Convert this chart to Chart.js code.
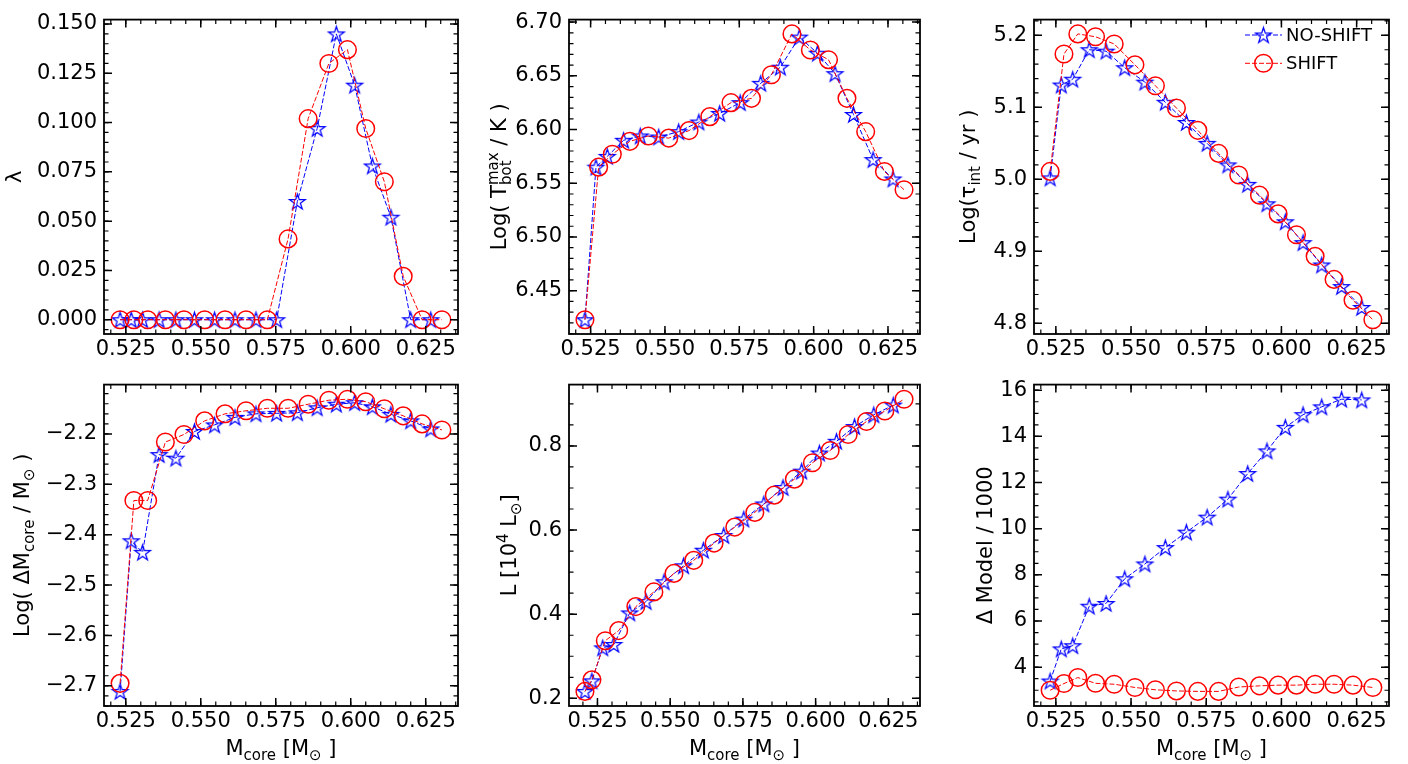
<!DOCTYPE html>
<html><head><meta charset="utf-8">
<script src="https://cdn.jsdelivr.net/npm/chart.js@4.4.1/dist/chart.umd.min.js"></script>
<style>
html,body{margin:0;padding:0;background:#fff;width:1408px;height:764px;overflow:hidden;}
canvas{position:absolute;}
</style></head><body>
<canvas id="p1"></canvas><canvas id="p2"></canvas><canvas id="p3"></canvas>
<canvas id="p4"></canvas><canvas id="p5"></canvas><canvas id="p6"></canvas>
<script>
// ---------------- data ----------------
const mcoreNoShift = [0.5231, 0.5268, 0.5306, 0.5361, 0.5417, 0.5479, 0.5546, 0.5614, 0.5684, 0.5753, 0.5822, 0.5888, 0.5952, 0.6013, 0.6072, 0.6134, 0.6200, 0.6267];
const mcoreShift   = [0.5231, 0.5277, 0.5323, 0.5382, 0.5444, 0.5513, 0.5581, 0.5651, 0.5722, 0.5791, 0.5858, 0.5927, 0.5989, 0.6050, 0.6112, 0.6175, 0.6238, 0.6304];
const mcoreFirstL  = 0.5207; // extra first model shown only in the luminosity panel
const mcoreNoShiftL = [mcoreFirstL, ...mcoreNoShift];
const mcoreShiftL   = [mcoreFirstL, ...mcoreShift];

const lambdaNoShift = [0,0,0,0,0,0,0,0,0,0, 0.060, 0.097, 0.145, 0.119, 0.078, 0.052, 0, 0];
const lambdaShift   = [0,0,0,0,0,0,0,0,0, 0.041, 0.102, 0.130, 0.137, 0.097, 0.070, 0.022, 0, 0];

const logTbotNoShift = [6.423, 6.565, 6.575, 6.590, 6.594, 6.593, 6.598, 6.607, 6.615, 6.625, 6.643, 6.658, 6.686, 6.671, 6.652, 6.614, 6.572, 6.554];
const logTbotShift   = [6.423, 6.565, 6.577, 6.589, 6.594, 6.592, 6.599, 6.612, 6.625, 6.629, 6.651, 6.689, 6.674, 6.665, 6.629, 6.598, 6.561, 6.544];

const logTauNoShift = [5.002, 5.131, 5.139, 5.180, 5.178, 5.155, 5.135, 5.107, 5.079, 5.050, 5.020, 4.993, 4.966, 4.941, 4.912, 4.881, 4.851, 4.822];
const logTauShift   = [5.011, 5.174, 5.202, 5.198, 5.188, 5.159, 5.130, 5.099, 5.068, 5.036, 5.006, 4.978, 4.952, 4.923, 4.893, 4.861, 4.832, 4.805];

const logDMcoreNoShift = [-2.711, -2.412, -2.435, -2.241, -2.248, -2.195, -2.182, -2.167, -2.160, -2.159, -2.158, -2.148, -2.141, -2.138, -2.146, -2.161, -2.174, -2.190];
const logDMcoreShift   = [-2.695, -2.332, -2.332, -2.216, -2.201, -2.174, -2.160, -2.154, -2.149, -2.149, -2.141, -2.133, -2.131, -2.136, -2.150, -2.164, -2.180, -2.192];

const lumNoShift = [0.2165, 0.2415, 0.320, 0.328, 0.403, 0.430, 0.477, 0.515, 0.552, 0.587, 0.626, 0.662, 0.701, 0.740, 0.783, 0.811, 0.846, 0.874, 0.897];
const lumShift   = [0.2165, 0.244, 0.337, 0.361, 0.418, 0.453, 0.497, 0.528, 0.569, 0.607, 0.642, 0.683, 0.721, 0.760, 0.789, 0.827, 0.858, 0.883, 0.911];

const dModelNoShift = [3.40, 4.79, 4.93, 6.64, 6.76, 7.83, 8.47, 9.18, 9.85, 10.50, 11.28, 12.39, 13.37, 14.39, 14.94, 15.28, 15.61, 15.58];
const dModelShift   = [3.00, 3.29, 3.55, 3.30, 3.26, 3.12, 3.02, 2.97, 2.95, 2.95, 3.14, 3.19, 3.22, 3.22, 3.26, 3.26, 3.22, 3.12];

const xTicks      = [0.525, 0.550, 0.575, 0.600, 0.625];
const lambdaTicks = [0.000, 0.025, 0.050, 0.075, 0.100, 0.125, 0.150];
const tbotTicks   = [6.45, 6.50, 6.55, 6.60, 6.65, 6.70];
const tauTicks    = [4.8, 4.9, 5.0, 5.1, 5.2];
const dmTicks     = [-2.7, -2.6, -2.5, -2.4, -2.3, -2.2];
const lumTicks    = [0.2, 0.4, 0.6, 0.8];
const dModelTicks = [4, 6, 8, 10, 12, 14, 16];
const seriesNames = ['NO-SHIFT', 'SHIFT'];

// ---------------- styling ----------------
const BLUE = '#0000ff', RED = '#ff0000';
const FONT = '"DejaVu Sans", "Liberation Sans", sans-serif';
const FS = 21;

function makeStar(R, color, lw) {
  const c = document.createElement('canvas');
  const S = Math.ceil(2 * R + 2 * lw + 2);
  c.width = S; c.height = S;
  const g = c.getContext('2d');
  g.translate(S / 2, S / 2 + R * 0.095);
  const r = R * 0.381966;
  g.beginPath();
  for (let i = 0; i < 10; i++) {
    const a = -Math.PI / 2 + i * Math.PI / 5;
    const rr = (i % 2) ? r : R;
    g.lineTo(rr * Math.cos(a), rr * Math.sin(a));
  }
  g.closePath();
  g.lineJoin = 'miter';
  g.strokeStyle = color; g.lineWidth = lw; g.stroke();
  return c;
}
const starImg = makeStar(8.2, BLUE, 1.25);

function paddedRange(vals) {
  const mn = Math.min(...vals), mx = Math.max(...vals);
  const d = mx - mn;
  return [mn - 0.05 * d, mx + 0.05 * d];
}

function drawRich(ctx, segs, x, y, size, rotate) {
  ctx.save();
  ctx.translate(x, y);
  if (rotate) ctx.rotate(-Math.PI / 2);
  const base = size + 'px ' + FONT;
  const small = Math.round(size * 0.7) + 'px ' + FONT;
  const items = [];
  let w = 0;
  for (const s of segs) {
    let m;
    if (!s.s) { ctx.font = base; m = ctx.measureText(s.t).width; }
    else if (s.s === 'sub' || s.s === 'sup') { ctx.font = small; m = ctx.measureText(s.t).width; }
    else { ctx.font = small; m = Math.max(ctx.measureText(s.t).width, ctx.measureText(s.t2).width); }
    items.push(Object.assign({ w: m }, s)); w += m;
  }
  let cx = -w / 2;
  ctx.textBaseline = 'alphabetic'; ctx.textAlign = 'left'; ctx.fillStyle = '#000';
  for (const it of items) {
    if (!it.s) { ctx.font = base; ctx.fillText(it.t, cx, 0); }
    else if (it.s === 'sub') { ctx.font = small; ctx.fillText(it.t, cx, size * 0.24); }
    else if (it.s === 'sup') { ctx.font = small; ctx.fillText(it.t, cx, -size * 0.40); }
    else { ctx.font = small; ctx.fillText(it.t, cx, -size * 0.40); ctx.fillText(it.t2, cx, size * 0.26); }
    cx += it.w;
  }
  ctx.restore();
}

const xTitleSegs = [{t:'M'}, {t:'core', s:'sub'}, {t:' [M'}, {t:'\u2299', s:'sub'}, {t:' ]'}];

// plugin: matplotlib-like frame, inward major/minor ticks, titles, legend
const mplFrame = {
  id: 'mplFrame',
  afterDraw(chart, args, o) {
    const { ctx, chartArea: a, scales: { x, y } } = chart;
    ctx.save();
    ctx.strokeStyle = '#000';
    const minors = (sc, step) => {
      const out = [];
      const k0 = Math.ceil(sc.min / step - 1e-9), k1 = Math.floor(sc.max / step + 1e-9);
      for (let k = k0; k <= k1; k++) out.push(k * step);
      return out;
    };
    const drawX = (vals, len, lw) => {
      ctx.lineWidth = lw; ctx.beginPath();
      for (const v of vals) {
        const px = x.getPixelForValue(v);
        ctx.moveTo(px, a.bottom); ctx.lineTo(px, a.bottom - len);
        ctx.moveTo(px, a.top); ctx.lineTo(px, a.top + len);
      }
      ctx.stroke();
    };
    const drawY = (vals, len, lw) => {
      ctx.lineWidth = lw; ctx.beginPath();
      for (const v of vals) {
        const py = y.getPixelForValue(v);
        ctx.moveTo(a.left, py); ctx.lineTo(a.left + len, py);
        ctx.moveTo(a.right, py); ctx.lineTo(a.right - len, py);
      }
      ctx.stroke();
    };
    drawX(minors(x, o.xMinor), 4.5, 1.2);
    drawY(minors(y, o.yMinor), 4.5, 1.2);
    drawX(x.ticks.map(t => t.value), 8, 1.5);
    drawY(y.ticks.map(t => t.value), 8, 1.5);
    ctx.lineWidth = 1.8;
    ctx.strokeRect(a.left, a.top, a.right - a.left, a.bottom - a.top);
    // y title
    drawRich(ctx, o.yTitle, o.yTitleX, (a.top + a.bottom) / 2, FS, true);
    // x title
    if (o.xTitle) drawRich(ctx, xTitleSegs, (a.left + a.right) / 2, o.xTitleY, FS, false);
    // legend
    if (o.legend) {
      const L = o.legend;
      const rows = [{ c: BLUE, star: true, label: seriesNames[0], y: L.y0 }, { c: RED, star: false, label: seriesNames[1], y: L.y1 }];
      for (const r of rows) {
        ctx.save();
        ctx.strokeStyle = r.c; ctx.lineWidth = 1; ctx.setLineDash([5, 2]);
        ctx.beginPath(); ctx.moveTo(L.x0, r.y); ctx.lineTo(L.x1, r.y); ctx.stroke();
        ctx.restore();
        const cxm = (L.x0 + L.x1) / 2;
        if (r.star) ctx.drawImage(starImg, cxm - starImg.width / 2, r.y - starImg.height / 2);
        else { ctx.strokeStyle = RED; ctx.lineWidth = 1.5; ctx.beginPath(); ctx.arc(cxm, r.y, 8.8, 0, 2 * Math.PI); ctx.stroke(); }
        ctx.fillStyle = '#000'; ctx.font = '18px ' + FONT; ctx.textBaseline = 'middle'; ctx.textAlign = 'left';
        ctx.fillText(r.label, L.tx, r.y + 1);
      }
    }
    ctx.restore();
  }
};

const cols = [
  { left: 0,   w: 475, plotLeft: 104, plotRight: 458 },
  { left: 475, w: 460, plotLeft: 569, plotRight: 920 },
  { left: 935, w: 473, plotLeft: 1034, plotRight: 1389 }
];
const rows = [
  { top: 0,   h: 365, plotTop: 12,  plotBottom: 334 },
  { top: 365, h: 399, plotTop: 382, plotBottom: 706 }
];

const panels = [
  { id: 'p1', c: 0, r: 0, xa: mcoreNoShift, xb: mcoreShift, ya: lambdaNoShift, yb: lambdaShift,
    yTicks: lambdaTicks, yMinor: 0.005, fmt: v => v.toFixed(3),
    yTitle: [{t:'\u03bb'}], yTitleX: 21 },
  { id: 'p2', c: 1, r: 0, xa: mcoreNoShift, xb: mcoreShift, ya: logTbotNoShift, yb: logTbotShift,
    yTicks: tbotTicks, yMinor: 0.01, fmt: v => v.toFixed(2),
    yTitle: [{t:'Log( T'}, {t:'max', s:'supsub', t2:'bot'}, {t:' / K )'}], yTitleX: 506 },
  { id: 'p3', c: 2, r: 0, xa: mcoreNoShift, xb: mcoreShift, ya: logTauNoShift, yb: logTauShift,
    yTicks: tauTicks, yMinor: 0.02, fmt: v => v.toFixed(1),
    yTitle: [{t:'Log(\u03c4'}, {t:'int', s:'sub'}, {t:' / yr )'}], yTitleX: 975,
    legend: { x0: 1245, x1: 1282, y0: 35, y1: 63.3, tx: 1286 } },
  { id: 'p4', c: 0, r: 1, xa: mcoreNoShift, xb: mcoreShift, ya: logDMcoreNoShift, yb: logDMcoreShift,
    yTicks: dmTicks, yMinor: 0.02, fmt: v => v.toFixed(1).replace('-', '\u2212'),
    yTitle: [{t:'Log( \u0394M'}, {t:'core', s:'sub'}, {t:' / M'}, {t:'\u2299', s:'sub'}, {t:' )'}], yTitleX: 29 },
  { id: 'p5', c: 1, r: 1, xa: mcoreNoShiftL, xb: mcoreShiftL, ya: lumNoShift, yb: lumShift,
    yTicks: lumTicks, yMinor: 0.05, fmt: v => v.toFixed(1),
    yTitle: [{t:'L [10'}, {t:'4', s:'sup'}, {t:' L'}, {t:'\u2299', s:'sub'}, {t:']'}], yTitleX: 516 },
  { id: 'p6', c: 2, r: 1, xa: mcoreNoShift, xb: mcoreShift, ya: dModelNoShift, yb: dModelShift,
    yTicks: dModelTicks, yMinor: 0.5, fmt: v => String(Math.round(v)),
    yTitle: [{t:'\u0394 Model / 1000'}], yTitleX: 992 }
];

for (const p of panels) {
  const col = cols[p.c], row = rows[p.r];
  const cv = document.getElementById(p.id);
  cv.width = col.w; cv.height = row.h;
  cv.style.left = col.left + 'px'; cv.style.top = row.top + 'px';
  const [xmin, xmax] = paddedRange([...p.xa, ...p.xb]);
  const [ymin, ymax] = paddedRange([...p.ya, ...p.yb]);
  const yW = col.plotLeft - col.left;
  const xH = row.top + row.h - row.plotBottom;
  const legend = p.legend ? { x0: p.legend.x0 - col.left, x1: p.legend.x1 - col.left, y0: p.legend.y0 - row.top, y1: p.legend.y1 - row.top, tx: p.legend.tx - col.left } : null;
  new Chart(cv, {
    type: 'scatter',
    data: { datasets: [
      { label: seriesNames[0], data: p.xa.map((v, i) => ({ x: v, y: p.ya[i] })), showLine: true,
        borderColor: BLUE, borderWidth: 1, borderDash: [5, 2], tension: 0,
        pointStyle: starImg, pointRadius: 8, pointBorderColor: BLUE, pointBackgroundColor: 'rgba(0,0,0,0)', order: 1 },
      { label: seriesNames[1], data: p.xb.map((v, i) => ({ x: v, y: p.yb[i] })), showLine: true,
        borderColor: RED, borderWidth: 1, borderDash: [5, 2], tension: 0,
        pointStyle: 'circle', pointRadius: 8.8, pointBorderWidth: 1.5, pointBorderColor: RED, pointBackgroundColor: 'rgba(0,0,0,0)', order: 0 }
    ] },
    options: {
      responsive: false, animation: false, devicePixelRatio: 1, events: [],
      layout: { autoPadding: false, padding: { left: 0, top: row.plotTop - row.top, right: col.left + col.w - col.plotRight, bottom: 0 } },
      plugins: { legend: { display: false }, tooltip: { enabled: false },
        mplFrame: { xMinor: 0.005, yMinor: p.yMinor, yTitle: p.yTitle, yTitleX: p.yTitleX - col.left,
          xTitle: p.r === 1, xTitleY: 755 - row.top, legend } },
      scales: {
        x: { type: 'linear', position: 'bottom', min: xmin, max: xmax,
          afterBuildTicks: s => { s.ticks = xTicks.map(v => ({ value: v })); },
          afterFit: s => { s.height = xH; },
          ticks: { callback: v => v.toFixed(3), color: '#000', font: { family: FONT, size: FS }, padding: 3, maxRotation: 0, autoSkip: false },
          grid: { display: false, drawTicks: false, tickLength: 0 }, border: { display: false } },
        y: { type: 'linear', position: 'left', min: ymin, max: ymax,
          afterBuildTicks: s => { s.ticks = p.yTicks.map(v => ({ value: v })); },
          afterFit: s => { s.width = yW; },
          ticks: { callback: v => p.fmt(v), color: '#000', font: { family: FONT, size: FS }, padding: 7, autoSkip: false },
          grid: { display: false, drawTicks: false, tickLength: 0 }, border: { display: false } }
      }
    },
    plugins: [mplFrame]
  });
}
</script>
</body></html>
